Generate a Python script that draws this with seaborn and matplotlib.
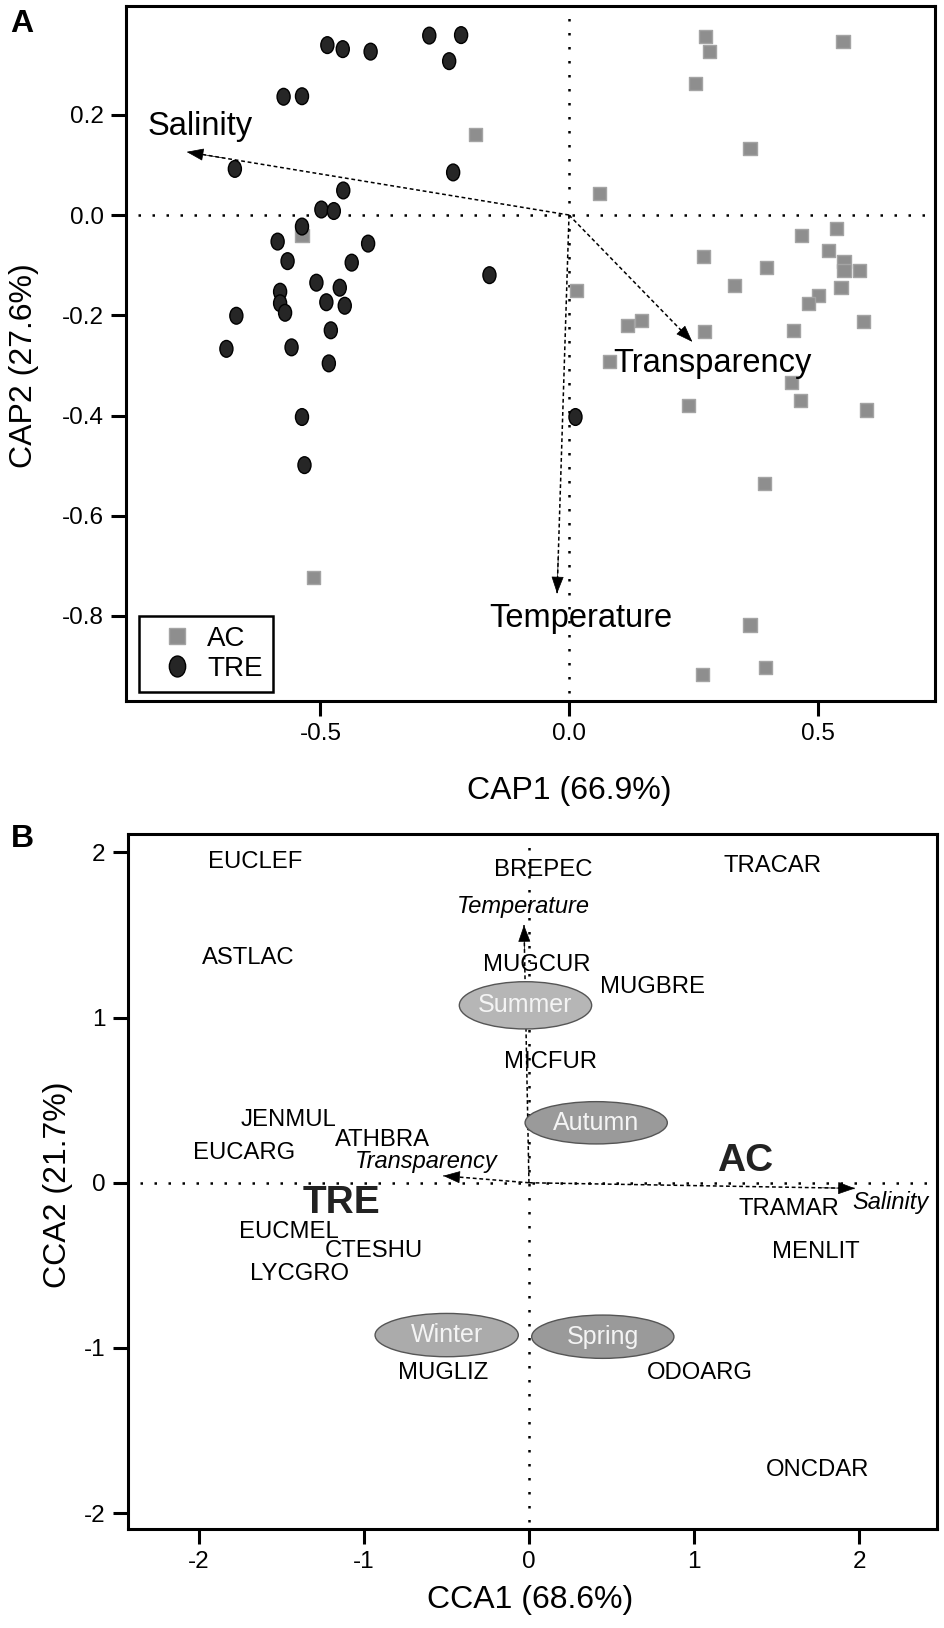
import pandas as pd
import matplotlib
matplotlib.use("Agg")
import matplotlib.pyplot as plt
from matplotlib.path import Path
from matplotlib.transforms import Affine2D
from matplotlib.patches import Ellipse
import seaborn as sns

# ---- Panel A: CAP sample scores ----
ac_x = [-0.189, -0.537, -0.514, 0.274, 0.282, 0.551, 0.255, 0.364, 0.061, 0.467,
        0.538, 0.270, 0.521, 0.398, 0.553, 0.553, 0.584, 0.333, 0.547, 0.015,
        0.502, 0.482, 0.117, 0.146, 0.272, 0.451, 0.592, 0.081, 0.447, 0.465,
        0.240, 0.599, 0.393, 0.364, 0.268, 0.395]
ac_y = [0.160, -0.041, -0.723, 0.356, 0.326, 0.347, 0.263, 0.132, 0.043, -0.041,
        -0.027, -0.083, -0.071, -0.104, -0.093, -0.110, -0.110, -0.140, -0.144, -0.150,
        -0.160, -0.176, -0.221, -0.211, -0.232, -0.230, -0.212, -0.293, -0.334, -0.371,
        -0.381, -0.389, -0.536, -0.818, -0.917, -0.903]
tre_x = [-0.486, -0.455, -0.399, -0.281, -0.217, -0.241, -0.574, -0.537, -0.672, -0.233,
         -0.454, -0.498, -0.473, -0.537, -0.586, -0.404, -0.566, -0.437, -0.160, -0.508,
         -0.581, -0.461, -0.581, -0.488, -0.451, -0.571, -0.669, -0.479, -0.689, -0.558,
         -0.483, -0.537, -0.532, 0.013]
tre_y = [0.339, 0.331, 0.326, 0.358, 0.359, 0.307, 0.236, 0.237, 0.092, 0.085,
         0.049, 0.011, 0.008, -0.023, -0.053, -0.057, -0.092, -0.095, -0.120, -0.135,
         -0.153, -0.145, -0.176, -0.174, -0.181, -0.195, -0.201, -0.230, -0.267, -0.264,
         -0.296, -0.403, -0.499, -0.403]

cap_env = ["Salinity", "Transparency", "Temperature"]
cap_env_x = [-0.769, 0.248, -0.024]
cap_env_y = [0.126, -0.253, -0.755]
cap_lab_x = [-0.847, 0.089, -0.160]
cap_lab_y = [0.160, -0.313, -0.822]

# ---- Panel B: CCA species / environment / seasons ----
species = ["EUCLEF", "ASTLAC", "JENMUL", "EUCARG", "ATHBRA", "EUCMEL", "CTESHU",
           "LYCGRO", "MUGLIZ", "ODOARG", "ONCDAR", "MENLIT", "TRAMAR", "MICFUR",
           "MUGBRE", "MUGCUR", "BREPEC", "TRACAR"]
species_x = [-1.656, -1.696, -1.457, -1.724, -0.889, -1.452, -0.939, -1.389, -0.519,
             1.037, 1.745, 1.739, 1.576, 0.130, 0.748, 0.048, 0.087, 1.476]
species_y = [1.943, 1.358, 0.380, 0.178, 0.258, -0.297, -0.412, -0.553, -1.150,
             -1.154, -1.739, -0.421, -0.160, 0.733, 1.183, 1.318, 1.893, 1.919]

cca_env = ["Temperature", "Transparency", "Salinity"]
cca_env_x = [-0.030, -0.519, 1.973]
cca_env_y = [1.560, 0.042, -0.034]
cca_lab_x = [-0.032, -0.622, 2.190]
cca_lab_y = [1.671, 0.127, -0.121]

groups = ["TRE", "AC"]
group_x = [-1.134, 1.308]
group_y = [-0.120, 0.131]

seasons = ["Summer", "Autumn", "Winter", "Spring"]
season_x = [-0.021, 0.407, -0.498, 0.447]
season_y = [1.074, 0.363, -0.922, -0.932]
season_w = [0.801, 0.861, 0.867, 0.861]
season_h = [0.286, 0.256, 0.262, 0.262]
season_col = ["#b6b6b6", "#9a9a9a", "#ababab", "#9a9a9a"]

sns.set_theme(style="ticks")
plt.rcParams.update({
    "font.family": ["Liberation Sans", "DejaVu Sans"],
    "axes.unicode_minus": False,
    "axes.linewidth": 2.2,
    "axes.edgecolor": "black",
    "axes.labelcolor": "black",
    "text.color": "black",
    "xtick.color": "black",
    "ytick.color": "black",
    "xtick.major.size": 11,
    "ytick.major.size": 11,
    "xtick.major.width": 2.2,
    "ytick.major.width": 2.2,
    "xtick.major.pad": 5,
    "ytick.major.pad": 5,
    "xtick.labelsize": 17.5,
    "ytick.labelsize": 17.5,
    "axes.labelsize": 23,
})

fig = plt.figure(figsize=(9.45, 16.28), dpi=100)
ax1 = fig.add_axes([0.1333, 0.5696, 0.8561, 0.4267])
ax2 = fig.add_axes([0.1351, 0.0608, 0.8561, 0.4267])


def draw_arrow(ax, x, y):
    ax.plot([0, x], [0, y], color="black", lw=1.1, linestyle=(0, (2.5, 1.8)), zorder=2)
    ax.annotate("", xy=(x, y), xytext=(x * 0.9, y * 0.9),
                arrowprops=dict(arrowstyle="-|>,head_length=0.55,head_width=0.2",
                                color="black", lw=0.5, mutation_scale=20,
                                shrinkA=0, shrinkB=0), zorder=3)


# ---------------- Panel A ----------------
df_a = pd.DataFrame({
    "CAP1": ac_x + tre_x,
    "CAP2": ac_y + tre_y,
    "site": ["AC"] * len(ac_x) + ["TRE"] * len(tre_x),
})
ellipse_marker = Path.unit_circle().transformed(Affine2D().scale(0.78, 1.0))

ax1.axhline(0, xmin=0.015, xmax=0.99, color="black", lw=1.8, linestyle=(0, (1, 4.6)), zorder=1)
ax1.axvline(0, ymin=0.011, ymax=0.987, color="black", lw=1.8, linestyle=(0, (1, 4.6)), zorder=1)

sns.scatterplot(data=df_a, x="CAP1", y="CAP2", hue="site", style="site", size="site",
                palette={"AC": "#8e8e8e", "TRE": "#262626"},
                markers={"AC": "s", "TRE": ellipse_marker},
                sizes={"AC": 88, "TRE": 145}, linewidth=1.0, zorder=4, ax=ax1)
pts = ax1.collections[-1]
pts.set_edgecolors(["#a4a4a4" if s == "AC" else "black" for s in df_a["site"]])

for name, x, y, lx, ly in zip(cap_env, cap_env_x, cap_env_y, cap_lab_x, cap_lab_y):
    draw_arrow(ax1, x, y)
    ax1.text(lx, ly, name, fontsize=23.5, ha="left", va="baseline", zorder=5)

ax1.set_xlim(-0.891, 0.736)
ax1.set_ylim(-0.969, 0.417)
ax1.set_xticks([-0.5, 0.0, 0.5])
ax1.set_yticks([-0.8, -0.6, -0.4, -0.2, 0.0, 0.2])
ax1.xaxis.set_major_formatter(matplotlib.ticker.FormatStrFormatter("%.1f"))
ax1.yaxis.set_major_formatter(matplotlib.ticker.FormatStrFormatter("%.1f"))
ax1.set_xlabel("CAP1 (66.9%)")
ax1.set_ylabel("CAP2 (27.6%)")
ax1.xaxis.set_label_coords(0.548, -0.108)
ax1.yaxis.set_label_coords(-0.107, 0.482)

sns.move_legend(ax1, "lower left", bbox_to_anchor=(0.0165, 0.013), title=None,
                frameon=True, fancybox=False, framealpha=1, fontsize=20,
                borderaxespad=0, handletextpad=0.1, labelspacing=0.15,
                borderpad=0.35, markerscale=1.25)
leg = ax1.get_legend()
leg.get_frame().set_edgecolor("black")
leg.get_frame().set_linewidth(1.8)
for h, lab in zip(leg.legend_handles, ["AC", "TRE"]):
    h.set_markeredgecolor("#a4a4a4" if lab == "AC" else "black")

# ---------------- Panel B ----------------
ax2.axhline(0, xmin=0.015, xmax=0.989, color="black", lw=1.8, linestyle=(0, (1, 4.6)), zorder=1)
ax2.axvline(0, ymin=0.0105, ymax=0.9875, color="black", lw=1.8, linestyle=(0, (1, 4.6)), zorder=1)

for name, x, y, lx, ly in zip(cca_env, cca_env_x, cca_env_y, cca_lab_x, cca_lab_y):
    draw_arrow(ax2, x, y)
    ax2.text(lx, ly, name, fontsize=17, style="italic", ha="center", va="center", zorder=5)

for name, x, y, w, h, c in zip(seasons, season_x, season_y, season_w, season_h, season_col):
    ax2.add_patch(Ellipse((x, y), w, h, facecolor=c, edgecolor="#555555", lw=1.0, zorder=4))
    ax2.text(x, y, name, fontsize=18, color="#f4f4f4", ha="center", va="center", zorder=5)

for name, x, y in zip(species, species_x, species_y):
    ax2.text(x, y, name, fontsize=17.2, ha="center", va="center", zorder=5)

for name, x, y in zip(groups, group_x, group_y):
    ax2.text(x, y, name, fontsize=28, fontweight="bold", color="#222222",
             ha="center", va="center", zorder=5)

ax2.set_xlim(-2.429, 2.468)
ax2.set_ylim(-2.096, 2.109)
ax2.set_xticks([-2, -1, 0, 1, 2])
ax2.set_yticks([-2, -1, 0, 1, 2])
ax2.set_xlabel("CCA1 (68.6%)")
ax2.set_ylabel("CCA2 (21.7%)")
ax2.xaxis.set_label_coords(0.497, -0.080)
ax2.yaxis.set_label_coords(-0.068, 0.495)

for ax in (ax1, ax2):
    for side in ("top", "right"):
        ax.spines[side].set_visible(True)

fig.text(10 / 945, 1 - 9 / 1628, "A", fontsize=23, fontweight="bold", ha="left", va="top")
fig.text(11 / 945, 1 - 824 / 1628, "B", fontsize=23, fontweight="bold", ha="left", va="top")

fig.savefig("out.png", dpi=100)
